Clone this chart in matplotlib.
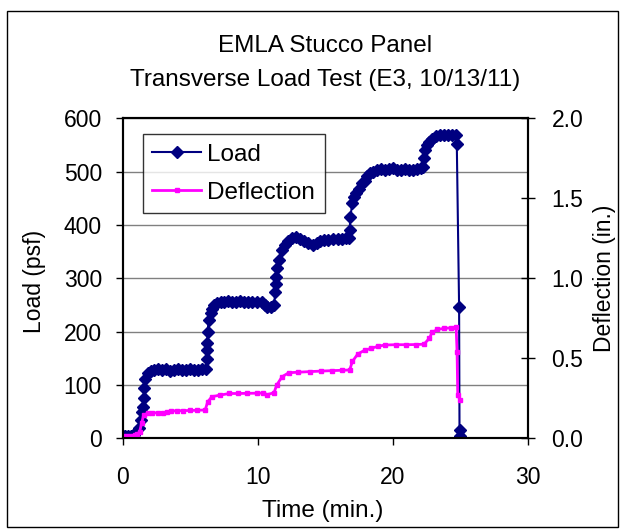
import matplotlib.pyplot as plt
from matplotlib.patches import Rectangle

plt.rcParams['font.family'] = ['Liberation Sans', 'DejaVu Sans']

# load series (time in min, load in psf)
load_time = [0.0, 0.2, 0.4, 0.6, 0.8, 1.0, 1.2, 1.37, 1.45, 1.49, 1.56, 1.58, 1.66, 1.86,
             2.1, 2.35, 2.6, 2.9, 3.2, 3.5, 3.8, 4.1, 4.4, 4.7, 5.0, 5.3, 5.6, 5.9, 6.14,
             6.25, 6.26, 6.27, 6.28, 6.37, 6.5, 6.6, 6.76, 7.0, 7.25, 7.5, 7.8, 8.1, 8.4,
             8.7, 9.0, 9.3, 9.6, 9.95, 10.3, 10.5, 10.7, 10.95, 11.2, 11.3, 11.33, 11.35,
             11.4, 11.55, 11.8, 12.0, 12.2, 12.5, 12.8, 13.1, 13.4, 13.7, 14.1, 14.35, 14.6,
             14.9, 15.2, 15.6, 15.9, 16.2, 16.5, 16.75, 16.8, 16.85, 17.0, 17.15, 17.3, 17.5,
             17.7, 17.9, 18.1, 18.3, 18.5, 18.8, 19.1, 19.4, 19.7, 20.0, 20.3, 20.6, 20.9,
             21.2, 21.5, 21.8, 22.05, 22.2, 22.3, 22.35, 22.5, 22.7, 22.9, 23.2, 23.5, 23.8,
             24.1, 24.4, 24.65, 24.73, 24.9, 24.93, 24.97]
load = [5, 5, 5, 5, 7, 12, 20, 34, 50, 59, 75, 94, 112, 122,
        126, 128, 129, 128, 129, 127, 128, 129, 128, 128, 129, 128, 128, 129, 130,
        148, 165, 178, 200, 222, 234, 243, 250, 254, 256, 256, 257, 256, 256,
        257, 256, 256, 256, 256, 255, 250, 247, 247, 250, 275, 290, 303,
        319, 334, 353, 362, 369, 375, 378, 374, 369, 366, 362, 366, 369,
        371, 372, 373, 374, 374, 375, 376, 391, 415, 441, 452, 459, 468,
        478, 482, 491, 497, 500, 503, 504, 503, 504, 506, 503, 503, 504,
        503, 503, 504, 506, 509, 525, 540, 550, 556, 562, 567, 569, 569,
        569, 569, 569, 551, 247, 16, 4]

# deflection series (time in min, deflection in in.)
defl_time = [0.0, 0.3, 0.6, 0.9, 1.05, 1.25, 1.4, 1.55, 1.86, 2.2, 2.6, 3.0, 3.3, 3.55,
             4.0, 4.5, 5.0, 5.5, 6.1, 6.3, 6.6, 7.2, 7.9, 8.5, 9.2, 9.95, 10.4, 10.7,
             11.2, 11.4, 11.8, 12.3, 13.0, 13.9, 14.7, 15.5, 16.2, 16.8, 17.0, 17.4,
             17.9, 18.4, 18.9, 19.4, 20.2, 21.0, 21.7, 22.3, 22.7, 22.9, 23.3, 23.8,
             24.3, 24.68, 24.75, 24.8, 24.97]
defl = [0.015, 0.015, 0.015, 0.02, 0.025, 0.04, 0.094, 0.146, 0.156, 0.158, 0.16, 0.16,
        0.162, 0.17, 0.172, 0.173, 0.174, 0.175, 0.177, 0.229, 0.26, 0.27, 0.28, 0.28,
        0.281, 0.282, 0.283, 0.273, 0.285, 0.333, 0.385, 0.41, 0.413, 0.417, 0.42,
        0.423, 0.425, 0.427, 0.48, 0.527, 0.55, 0.5625, 0.575, 0.583, 0.585, 0.585,
        0.586, 0.588, 0.625, 0.662, 0.68, 0.6875, 0.69, 0.694, 0.54, 0.27, 0.24]

W, H = 624, 531
fig = plt.figure(figsize=(W / 100, H / 100), dpi=100)
fig.patches.append(Rectangle((6.5 / W, 4 / H), 611.5 / W, 516 / H, transform=fig.transFigure,
                             fill=False, edgecolor='black', linewidth=1.0))

ax = fig.add_axes([122.7 / W, 1 - 438.3 / H, 405.3 / W, 320 / H])
ax2 = ax.twinx()

l1, = ax.plot(load_time, load, color='#000080', marker='D', markersize=6.5,
              linewidth=1.5, label='Load')
l2, = ax2.plot(defl_time, defl, color='#FF00FF', marker='s', markersize=3,
               linewidth=2.0, label='Deflection')

ax.set_xlim(0, 30)
ax.set_ylim(0, 600)
ax2.set_ylim(0, 2.0)
ax.set_xticks([0, 10, 20, 30])
ax.set_yticks(range(0, 601, 100))
ax2.set_yticks([0.0, 0.5, 1.0, 1.5, 2.0])
ax2.set_yticklabels(['0.0', '0.5', '1.0', '1.5', '2.0'])

ax.yaxis.grid(True, color='#808080', linewidth=1.0)
ax.set_axisbelow(True)

fs = 16.5
ax.tick_params(axis='y', direction='out', length=5, width=1, pad=10, labelsize=fs)
ax.tick_params(axis='x', direction='out', length=5, width=1, pad=15, labelsize=fs)
ax2.tick_params(axis='y', direction='inout', length=10, width=1, pad=12, labelsize=fs)

for a in (ax, ax2):
    for s in a.spines.values():
        s.set_color('black')
        s.set_linewidth(1.5)

fig.text(325 / W, 1 - 46 / H, 'EMLA Stucco Panel', ha='center', va='center', fontsize=17.5)
fig.text(325 / W, 1 - 80 / H, 'Transverse Load Test (E3, 10/13/11)', ha='center',
         va='center', fontsize=17.5)
fig.text(323 / W, 1 - 511 / H, 'Time (min.)', ha='center', va='center', fontsize=17.5)
fig.text(34 / W, 1 - 281 / H, 'Load (psf)', ha='center', va='center', rotation=90,
         fontsize=16.5)
fig.text(604 / W, 1 - 278 / H, 'Deflection (in.)', ha='center', va='center', rotation=90,
         fontsize=16.5)

leg = ax2.legend([l1, l2], ['Load', 'Deflection'], loc='upper left',
                 bbox_to_anchor=(0.049, 0.951), fontsize=17.5, frameon=True, fancybox=False,
                 handlelength=2.0, handletextpad=0.25, labelspacing=0.65, borderpad=0.4,
                 borderaxespad=0)
leg.get_frame().set_edgecolor('black')
leg.get_frame().set_linewidth(1.0)

fig.savefig('out.png', dpi=100)
